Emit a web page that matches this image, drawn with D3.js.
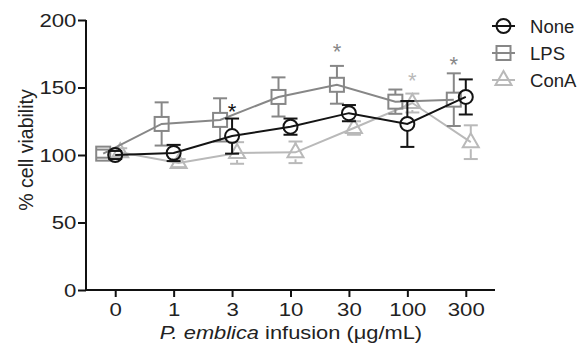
<!DOCTYPE html>
<html><head><meta charset="utf-8">
<script src="https://cdn.jsdelivr.net/npm/d3@7"></script>
<style>body{margin:0;background:#fff}svg{display:block}text{font-family:"Liberation Sans",Arial,sans-serif}</style>
</head><body><svg id="c" width="578" height="353"></svg>
<script>
const categories = ["0","1","3","10","30","100","300"];
const yTicks = [0,50,100,150,200];
const noneVals = [100, 101.5, 114, 121, 131, 123, 143];
const noneErr  = [3, 6, 13, 6, 6, 17, 13];
const lpsVals  = [101, 123, 126, 143, 152, 139.5, 141];
const lpsErr   = [3, 16, 16, 14.5, 14, 9, 19.5];
const conaVals = [102, 94, 101.5, 102, 120, 138.5, 109.5];
const conaErr  = [3, 3, 8, 8, 5, 7, 12.5];
const seriesNames = ["None","LPS","ConA"];
// significance marks: [series, category, y value of mark]
const stars = [["None","3",135],["LPS","30",179],["ConA","100",158],["LPS","300",170]];

const svg = d3.select("#c");
const x = d3.scalePoint().domain(categories).range([86,495]).padding(0.5);
const y = d3.scaleLinear().domain([0,200]).range([290,20]);

const series = [
  {name:"ConA", vals:conaVals, err:conaErr, color:"#b9b9b9", off:5, sym:"tri"},
  {name:"LPS", vals:lpsVals, err:lpsErr, color:"#878787", off:-12, sym:"sq"},
  {name:"None", vals:noneVals, err:noneErr, color:"#141414", off:0, sym:"circ"}
];
const R = 7;
function drawMarker(g, s, cx, cy, color){
  if(s==="circ") g.append("circle").attr("cx",cx).attr("cy",cy).attr("r",R);
  else if(s==="sq") g.append("rect").attr("x",cx-7).attr("y",cy-7).attr("width",14).attr("height",14);
  else g.append("path").attr("d",`M${cx},${cy-9}L${cx+8},${cy+5}L${cx-8},${cy+5}Z`);
  g.selectAll("*").attr("fill","none").attr("stroke",color).attr("stroke-width",2);
}
const tx = "scale(1.2,1)";

// axes
const yAx = svg.append("g").attr("transform","translate(86,0)")
  .call(d3.axisLeft(y).tickValues(yTicks).tickSize(8).tickPadding(2).tickSizeOuter(0));
const xAx = svg.append("g").attr("transform","translate(0,290)")
  .call(d3.axisBottom(x).tickSize(7).tickPadding(6).tickSizeOuter(0));
[yAx,xAx].forEach(a=>{
  a.select(".domain").attr("stroke","#111").attr("stroke-width",2);
  a.selectAll(".tick line").attr("stroke","#111").attr("stroke-width",2);
  a.selectAll(".tick text").attr("fill","#222").style("font-size","18.5px");
});
yAx.select(".domain").attr("d","M0,20V291");
xAx.select(".domain").attr("d","M85,0H495");
yAx.selectAll(".tick text").attr("transform",tx).attr("x",-8).attr("dy","0.34em");
xAx.selectAll(".tick text").attr("transform",tx);

// series
series.forEach(s=>{
  const g = svg.append("g");
  const px = c => x(c)+s.off;
  const line = d3.line().x((d,i)=>px(categories[i])).y(d=>y(d));
  g.append("path").datum(s.vals).attr("d",line).attr("fill","none").attr("stroke",s.color).attr("stroke-width",2);
  s.vals.forEach((v,i)=>{
    const cx=px(categories[i]), cy=y(v), top=y(v+s.err[i]), bot=y(v-s.err[i]);
    const eg=g.append("g").attr("stroke",s.color).attr("stroke-width",2);
    if(cy-top>R) eg.append("line").attr("x1",cx).attr("x2",cx).attr("y1",top).attr("y2",cy-R);
    if(bot-cy>R) eg.append("line").attr("x1",cx).attr("x2",cx).attr("y1",cy+R).attr("y2",bot);
    eg.append("line").attr("x1",cx-7).attr("x2",cx+7).attr("y1",top).attr("y2",top);
    eg.append("line").attr("x1",cx-7).attr("x2",cx+7).attr("y1",bot).attr("y2",bot);
    drawMarker(g.append("g"), s.sym, cx, cy, s.color);
  });
});

// stars
stars.forEach(([sn,c,v])=>{
  const s=series.find(d=>d.name===sn);
  svg.append("text").attr("x",x(c)+s.off).attr("y",y(v)+11).attr("text-anchor","middle")
    .attr("fill",s.color).style("font-size","22px").text("*");
});

// legend
const legOrder = ["None","LPS","ConA"];
legOrder.forEach((n,i)=>{
  const s=series.find(d=>d.name===n);
  const ly = 26 + i*27;
  const g=svg.append("g");
  g.append("line").attr("x1",492).attr("x2",515).attr("y1",ly).attr("y2",ly).attr("stroke",s.color).attr("stroke-width",2);
  drawMarker(g.append("g"), s.sym, 503.5, ly, s.color);
  svg.append("text").attr("transform",`translate(530,${ly+7}) scale(1.03,1)`).attr("fill","#222").style("font-size","18px").text(n);
});

// axis titles
svg.append("text").attr("transform","translate(33,150) rotate(-90)").attr("text-anchor","middle")
  .attr("fill","#222").style("font-size","19.5px").text("% cell viability");
const xt = svg.append("text").attr("transform",`translate(291,339) scale(1.15,1)`).attr("text-anchor","middle")
  .attr("fill","#222").style("font-size","19px");
xt.append("tspan").style("font-style","italic").text("P. emblica");
xt.append("tspan").text(" infusion (\u03bcg/mL)");
</script></body></html>
